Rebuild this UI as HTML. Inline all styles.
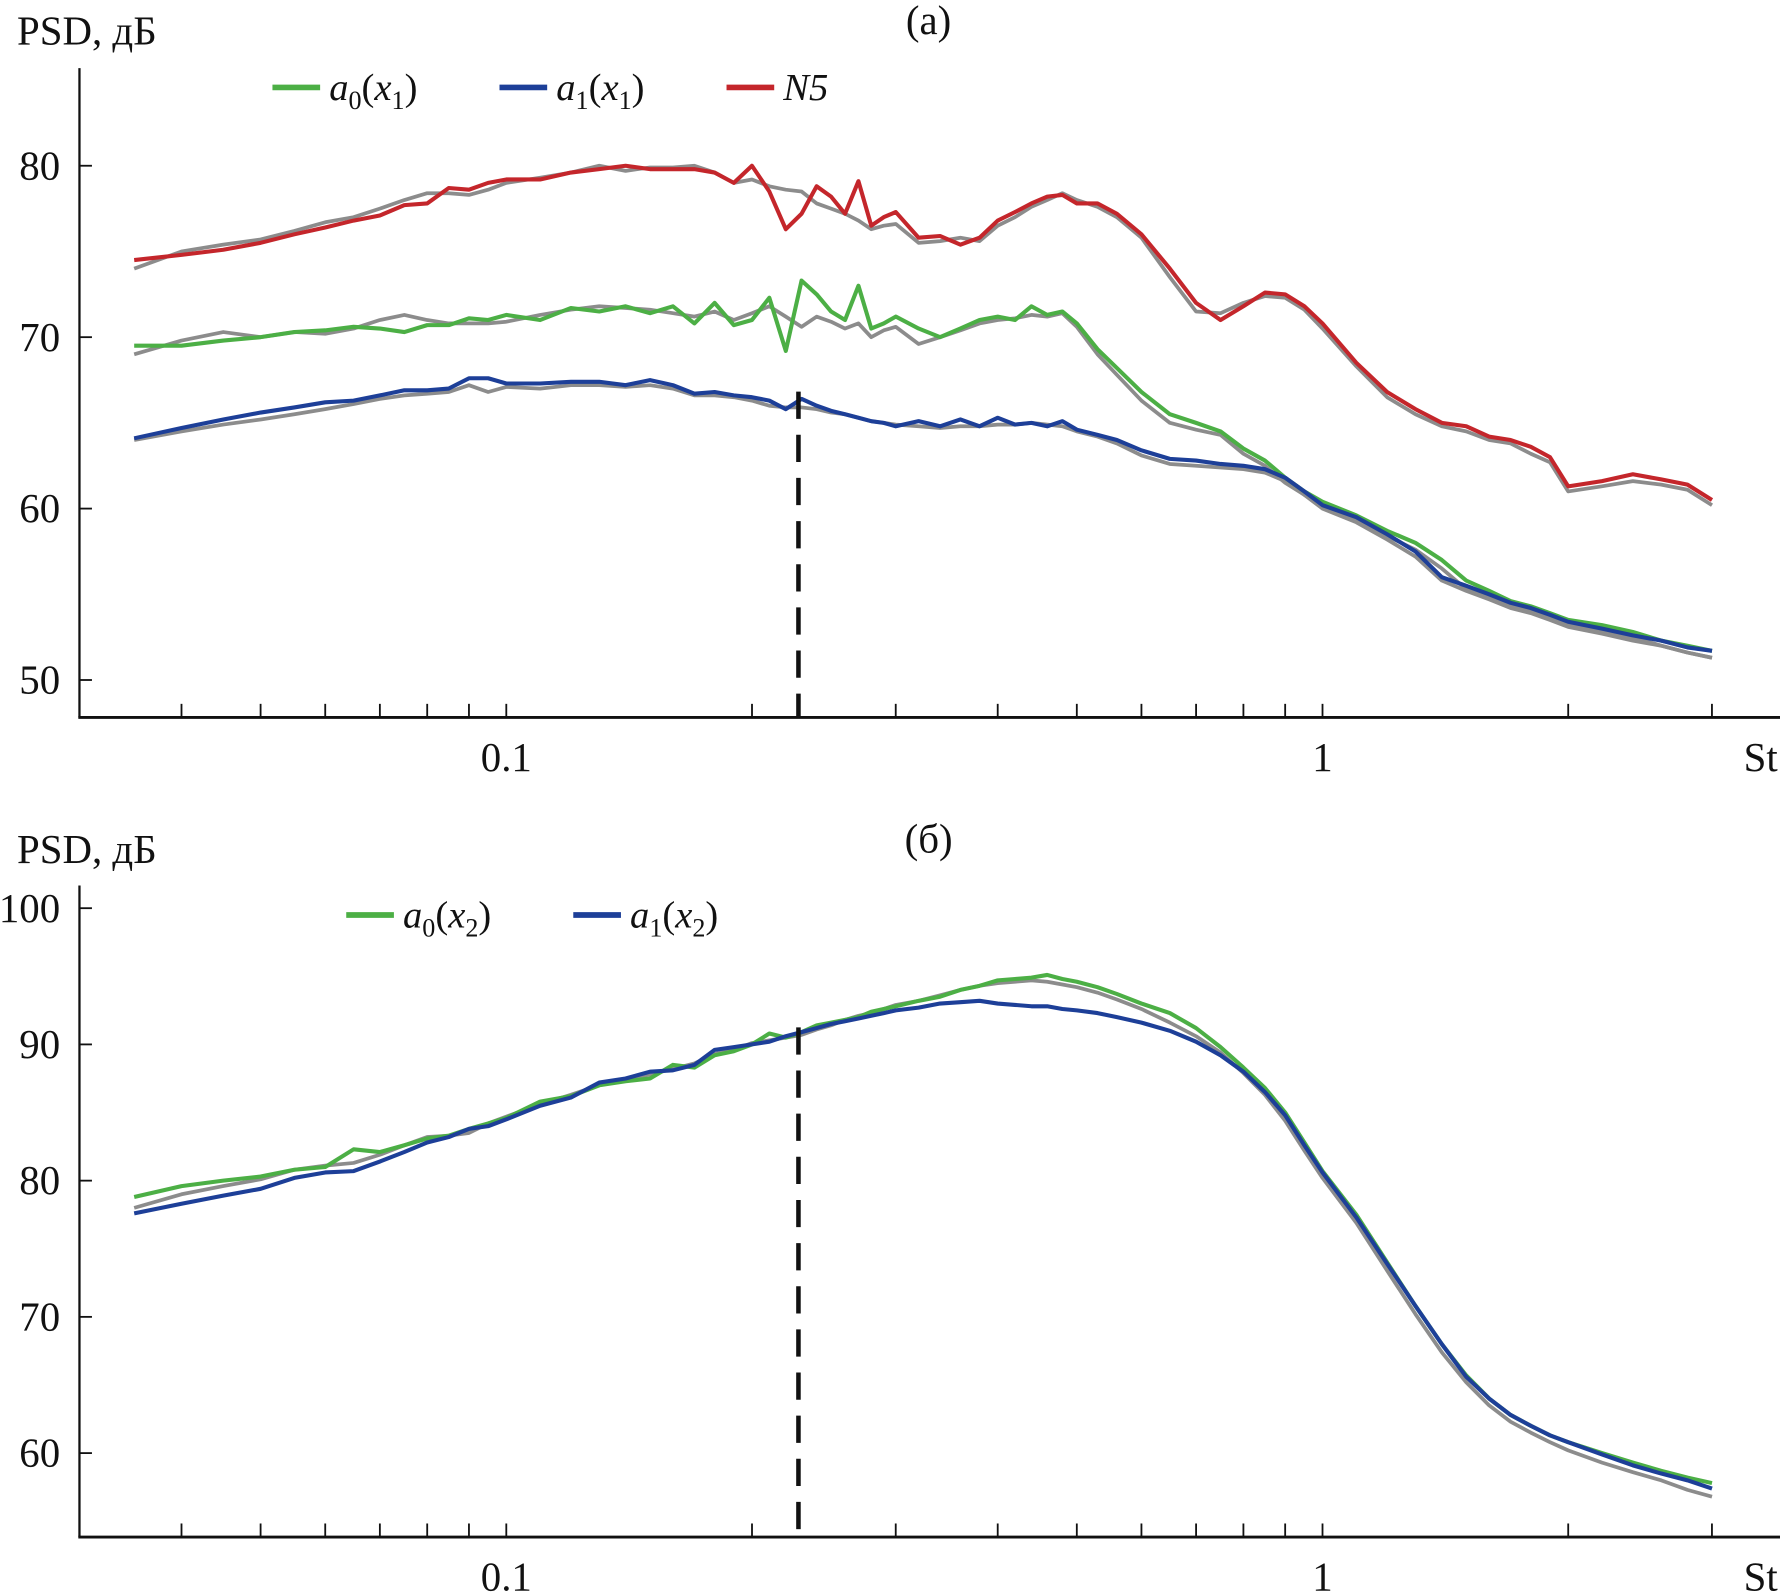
<!DOCTYPE html>
<html><head><meta charset="utf-8"><style>
html,body{margin:0;padding:0;background:#fff;}
svg{display:block;}
text{font-family:"Liberation Serif","DejaVu Serif",serif;fill:#111;}
</style></head><body>
<svg id="fig" width="1780" height="1595" viewBox="0 0 1568 1405" preserveAspectRatio="none" xmlns="http://www.w3.org/2000/svg"></svg>
<script>
// ---- shared frequency axis (Strouhal numbers) ----
const st = [0.035,0.04,0.045,0.05,0.055,0.06,0.065,0.07,0.075,0.08,0.085,0.09,0.095,0.1,0.11,0.12,0.13,0.14,0.15,0.16,0.17,0.18,0.19,0.2,0.21,0.22,0.23,0.24,0.25,0.26,0.27,0.28,0.29,0.3,0.32,0.34,0.36,0.38,0.4,0.42,0.44,0.46,0.48,0.5,0.53,0.56,0.6,0.65,0.7,0.75,0.8,0.85,0.9,0.95,1.0,1.1,1.2,1.3,1.4,1.5,1.6,1.7,1.8,1.9,2.0,2.2,2.4,2.6,2.8,3.0];
// ---- panel (a) ----
const aN5 = [74.5,74.8,75.1,75.5,76.0,76.4,76.8,77.1,77.7,77.8,78.7,78.6,79.0,79.2,79.2,79.6,79.8,80.0,79.8,79.8,79.8,79.6,79.0,80.0,78.5,76.3,77.2,78.8,78.2,77.2,79.1,76.5,77.0,77.3,75.8,75.9,75.4,75.8,76.8,77.3,77.8,78.2,78.3,77.8,77.8,77.2,76.0,74.0,72.0,71.0,71.8,72.6,72.5,71.8,70.8,68.5,66.8,65.8,65.0,64.8,64.2,64.0,63.6,63.0,61.3,61.6,62.0,61.7,61.4,60.5];
const aA0 = [69.5,69.5,69.8,70.0,70.3,70.4,70.6,70.5,70.3,70.7,70.7,71.1,71.0,71.3,71.0,71.7,71.5,71.8,71.4,71.8,70.8,72.0,70.7,71.0,72.3,69.2,73.3,72.5,71.5,71.0,73.0,70.5,70.8,71.2,70.5,70.0,70.5,71.0,71.2,71.0,71.8,71.3,71.5,70.8,69.3,68.2,66.8,65.5,65.0,64.5,63.5,62.8,61.8,61.0,60.4,59.6,58.7,58.0,57.0,55.8,55.2,54.6,54.3,53.9,53.5,53.2,52.8,52.3,52.0,51.7];
const aA1 = [64.1,64.7,65.2,65.6,65.9,66.2,66.3,66.6,66.9,66.9,67.0,67.6,67.6,67.3,67.3,67.4,67.4,67.2,67.5,67.2,66.7,66.8,66.6,66.5,66.3,65.8,66.4,66.0,65.7,65.5,65.3,65.1,65.0,64.8,65.1,64.8,65.2,64.8,65.3,64.9,65.0,64.8,65.1,64.6,64.3,64.0,63.4,62.9,62.8,62.6,62.5,62.3,61.8,61.0,60.2,59.5,58.5,57.5,56.0,55.5,55.0,54.5,54.2,53.8,53.4,53.0,52.6,52.3,51.9,51.7];
const aRefN5 = [74.0,75.0,75.4,75.7,76.2,76.7,77.0,77.5,78.0,78.4,78.4,78.3,78.6,79.0,79.3,79.6,80.0,79.7,79.9,79.9,80.0,79.6,79.0,79.2,78.8,78.6,78.5,77.8,77.5,77.2,76.8,76.3,76.5,76.6,75.5,75.6,75.8,75.6,76.5,77.0,77.6,78.0,78.4,78.0,77.6,77.0,75.8,73.5,71.5,71.4,72.0,72.4,72.3,71.6,70.5,68.3,66.5,65.5,64.8,64.5,64.0,63.8,63.2,62.7,61.0,61.3,61.6,61.4,61.1,60.2];
const aRefA0 = [69.0,69.8,70.3,70.0,70.3,70.2,70.5,71.0,71.3,71.0,70.8,70.8,70.8,70.9,71.3,71.6,71.8,71.7,71.6,71.4,71.2,71.5,71.0,71.4,71.8,71.2,70.6,71.2,70.9,70.5,70.8,70.0,70.4,70.6,69.6,70.0,70.4,70.8,71.0,71.1,71.3,71.2,71.4,70.6,69.0,67.8,66.3,65.0,64.6,64.3,63.2,62.5,61.5,60.8,60.2,59.3,58.4,57.6,56.5,55.3,54.8,54.3,54.0,53.6,53.2,52.9,52.5,52.0,51.6,51.3];
const aRefA1 = [64.0,64.5,64.9,65.2,65.5,65.8,66.1,66.4,66.6,66.7,66.8,67.2,66.8,67.1,67.0,67.2,67.2,67.1,67.2,67.0,66.6,66.6,66.5,66.3,66.0,65.9,65.9,65.8,65.6,65.5,65.3,65.1,65.0,64.9,64.8,64.7,64.8,64.8,64.9,64.9,65.0,64.9,64.8,64.5,64.2,63.8,63.1,62.6,62.5,62.4,62.3,62.1,61.6,60.8,60.0,59.2,58.2,57.2,55.8,55.2,54.7,54.2,53.9,53.5,53.1,52.7,52.3,52.0,51.6,51.3];
const aYTicks = [50,60,70,80];
// ---- panel (б) ----
const bA0 = [78.8,79.6,80.0,80.3,80.8,81.0,82.3,82.1,82.6,83.1,83.3,83.8,84.2,84.6,85.8,86.2,87.0,87.3,87.5,88.5,88.3,89.2,89.5,90.0,90.8,90.5,90.9,91.4,91.6,91.8,92.0,92.4,92.6,92.8,93.2,93.5,94.0,94.3,94.7,94.8,94.9,95.1,94.8,94.6,94.2,93.7,93.0,92.3,91.2,89.8,88.3,86.8,85.0,82.8,80.7,77.5,74.0,70.8,68.0,65.7,64.0,62.8,62.0,61.3,60.8,60.0,59.3,58.7,58.2,57.8];
const bA1 = [77.6,78.3,78.9,79.4,80.2,80.6,80.7,81.4,82.1,82.8,83.2,83.8,84.0,84.5,85.5,86.1,87.2,87.5,88.0,88.1,88.5,89.6,89.8,90.0,90.2,90.6,90.9,91.2,91.5,91.7,91.9,92.1,92.3,92.5,92.7,93.0,93.1,93.2,93.0,92.9,92.8,92.8,92.6,92.5,92.3,92.0,91.6,91.0,90.2,89.2,88.0,86.5,84.8,82.6,80.6,77.3,73.9,70.8,68.0,65.6,64.0,62.8,62.0,61.3,60.8,59.9,59.1,58.5,58.0,57.4];
const bRef = [78.0,79.0,79.6,80.1,80.8,81.1,81.3,81.9,82.6,83.2,83.3,83.5,84.2,84.7,85.6,86.3,87.0,87.4,87.8,88.2,88.6,89.3,89.6,90.1,90.3,90.5,90.7,91.1,91.4,91.8,92.1,92.3,92.6,92.9,93.2,93.6,94.0,94.3,94.5,94.6,94.7,94.6,94.4,94.2,93.8,93.3,92.6,91.6,90.6,89.4,87.9,86.3,84.4,82.2,80.2,76.9,73.4,70.2,67.4,65.2,63.5,62.3,61.5,60.8,60.2,59.3,58.6,58.0,57.3,56.8];
const bYTicks = [60,70,80,90,100];
const xMinorTicks = [0.04,0.05,0.06,0.07,0.08,0.09,0.1,0.2,0.3,0.4,0.5,0.6,0.7,0.8,0.9,1,2,3];
const xLabels = [0.1,1];
const stCut = 0.228;

const NS='http://www.w3.org/2000/svg';
const svg=document.getElementById('fig');
function mk(tag,attrs,parent){const e=document.createElementNS(NS,tag);for(const k in attrs)e.setAttribute(k,attrs[k]);(parent||svg).appendChild(e);return e;}
const xs = s => 446 + 719*Math.log10(s/0.1);
const COL={green:'#4caf45',blue:'#1d3f98',red:'#c4262b',gray:'#8c8c8c'};

function panel(o){
  const g=mk('g',{});
  
  
  const ys=v=>o.y0+(v-o.v0)*o.k;
  const ya=mk('line',{x1:70,y1:o.axTop,x2:70,y2:o.axY,stroke:'#111','stroke-width':2},g);
  
  const xa=mk('line',{x1:69,y1:o.axY,x2:1568,y2:o.axY,stroke:'#111','stroke-width':2.5},g);
  
  xMinorTicks.forEach(t=>{const l=mk('line',{x1:xs(t),y1:o.axY,x2:xs(t),y2:o.axY-12,stroke:'#111','stroke-width':1.6},g);
    });
  xLabels.forEach(t=>{const tx=mk('text',{x:xs(t),y:o.axY+47,'font-size':36,'text-anchor':'middle'},g);tx.textContent=String(t);
    });
  const stl=mk('text',{x:1536,y:o.axY+47,'font-size':36},g);stl.textContent='St';
  
  o.yt.forEach(t=>{const y=ys(t);const l=mk('line',{x1:70,y1:y,x2:81,y2:y,stroke:'#111','stroke-width':1.6},g);
    
    const tx=mk('text',{x:53,y:y+12,'font-size':36,'text-anchor':'end'},g);tx.textContent=String(t);
    });
  const yt=mk('text',{x:15,y:o.titleY,'font-size':36},g);yt.textContent='PSD, дБ';
  
  const pt=mk('text',{x:818,y:o.labelY,'font-size':36,'text-anchor':'middle'},g);pt.textContent=o.label;
  
  o.series.forEach(s=>{
    const n=Math.min(st.length,s.d.length);
    let d='';for(let i=0;i<n;i++)d+=(i?'L':'M')+xs(st[i]).toFixed(1)+' '+ys(s.d[i]).toFixed(1);
    const p=mk('path',{d:d,fill:'none',stroke:s.c,'stroke-width':s.w,'stroke-linejoin':'round'},g);
    
  });
  const dl=mk('line',{x1:xs(stCut),y1:o.dashTop,x2:xs(stCut),y2:o.axY,stroke:'#111','stroke-width':4,'stroke-dasharray':'24 14'},g);
  
  o.legend.forEach(L=>{
    const lg=mk('g',{},g);
    
    mk('line',{x1:L.x,y1:o.legY,x2:L.x+42,y2:o.legY,stroke:L.c,'stroke-width':5},lg);
    const t=mk('text',{x:L.x+50,y:o.legY+11,'font-size':34,'font-style':'italic'},lg);
    t.innerHTML=L.html;
  });
}
function lab(a,b){return 'a<tspan font-size="23" dy="8" font-style="normal">'+a+'</tspan><tspan dy="-8" font-style="normal">(</tspan><tspan>x</tspan><tspan font-size="23" dy="8" font-style="normal">'+b+'</tspan><tspan dy="-8" font-style="normal">)</tspan>';}

panel({name:'panel-a',y0:146,v0:80,k:-15.1,axTop:60,axY:632,yt:aYTicks,titleY:39,labelY:30,label:'(a)',dashTop:345,legY:77,
  series:[{d:aRefN5,c:COL.gray,w:3.3,n:'ref-n5-line'},{d:aRefA0,c:COL.gray,w:3.3,n:'ref-a0-x1-line'},{d:aRefA1,c:COL.gray,w:3.3,n:'ref-a1-x1-line'},
          {d:aN5,c:COL.red,w:3.6,n:'n5-line'},{d:aA0,c:COL.green,w:3.6,n:'a0-x1-line'},{d:aA1,c:COL.blue,w:3.6,n:'a1-x1-line'}],
  legend:[{x:240,c:COL.green,html:lab(0,1)},{x:440,c:COL.blue,html:lab(1,1)},{x:640,c:COL.red,html:'N5'}]});
panel({name:'panel-b',y0:800,v0:100,k:-12,axTop:780,axY:1354,yt:bYTicks,titleY:760,labelY:751,label:'(б)',dashTop:905,legY:806,
  series:[{d:bRef,c:COL.gray,w:3.3,n:'ref-x2-line'},{d:bA0,c:COL.green,w:3.6,n:'a0-x2-line'},{d:bA1,c:COL.blue,w:3.6,n:'a1-x2-line'}],
  legend:[{x:305,c:COL.green,html:lab(0,2)},{x:505,c:COL.blue,html:lab(1,2)}]});
</script>
</body></html>
